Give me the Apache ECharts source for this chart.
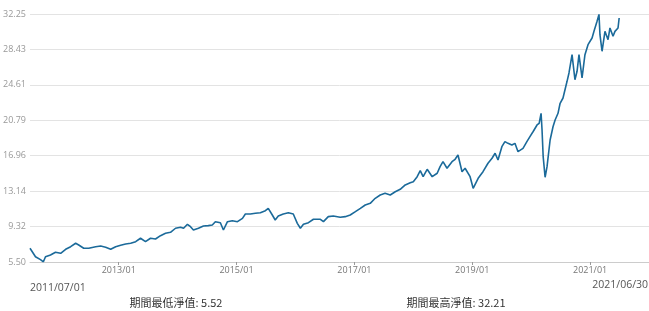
<!DOCTYPE html>
<html><head><meta charset="utf-8">
<script src="https://cdn.jsdelivr.net/npm/echarts@6/dist/echarts.min.js"></script>
<style>html,body{margin:0;padding:0;background:#fff;}#c{width:649px;height:311px;}</style>
</head><body><div id="c"></div>
<script>
const dates = ['2011-07-01','2011-08-04','2011-09-04','2011-09-22','2011-10-05','2011-11-05','2011-12-06','2012-01-07','2012-02-07','2012-03-09','2012-04-09','2012-04-28','2012-05-29','2012-06-29','2012-08-11','2012-09-11','2012-10-12','2012-11-12','2012-12-13','2013-01-13','2013-02-13','2013-03-16','2013-04-16','2013-05-16','2013-06-16','2013-07-17','2013-08-17','2013-09-17','2013-10-18','2013-11-18','2013-12-19','2014-01-19','2014-02-07','2014-03-03','2014-03-22','2014-04-09','2014-05-10','2014-06-10','2014-07-10','2014-08-04','2014-08-23','2014-09-23','2014-10-12','2014-11-06','2014-12-06','2015-01-07','2015-02-07','2015-02-25','2015-03-28','2015-04-28','2015-05-29','2015-06-29','2015-07-17','2015-08-11','2015-08-29','2015-09-17','2015-10-18','2015-11-18','2015-12-19','2016-01-13','2016-02-01','2016-02-20','2016-03-22','2016-04-22','2016-05-04','2016-06-04','2016-06-23','2016-07-23','2016-08-23','2016-10-05','2016-11-05','2016-12-06','2017-01-07','2017-02-07','2017-03-09','2017-04-09','2017-05-10','2017-06-10','2017-07-10','2017-08-11','2017-09-11','2017-10-12','2017-11-12','2017-12-13','2018-01-01','2018-01-25','2018-02-13','2018-03-03','2018-03-28','2018-04-28','2018-05-29','2018-06-16','2018-07-04','2018-07-29','2018-08-29','2018-09-17','2018-10-05','2018-10-30','2018-11-18','2018-12-19','2019-01-07','2019-02-07','2019-03-09','2019-04-09','2019-05-04','2019-05-23','2019-06-10','2019-07-04','2019-07-23','2019-08-11','2019-09-04','2019-09-23','2019-10-12','2019-11-12','2019-12-06','2019-12-25','2020-01-13','2020-02-07','2020-02-20','2020-03-03','2020-03-09','2020-03-16','2020-03-28','2020-04-09','2020-04-28','2020-05-16','2020-05-29','2020-06-16','2020-06-29','2020-07-17','2020-08-11','2020-08-23','2020-09-11','2020-09-29','2020-10-12','2020-10-24','2020-11-12','2020-11-30','2020-12-19','2021-01-13','2021-01-25','2021-02-13','2021-02-25','2021-03-03','2021-03-16','2021-04-03','2021-04-22','2021-05-04','2021-05-23','2021-06-04','2021-06-23','2021-06-30'];
const nav = [6.98,6.07,5.75,5.52,6.07,6.26,6.55,6.44,6.87,7.15,7.52,7.33,6.98,6.98,7.15,7.23,7.09,6.87,7.15,7.30,7.45,7.52,7.69,8.06,7.69,8.06,7.98,8.34,8.60,8.70,9.14,9.24,9.14,9.57,9.31,8.95,9.14,9.38,9.42,9.49,9.85,9.74,8.95,9.85,9.95,9.85,10.21,10.68,10.68,10.75,10.82,11.03,11.29,10.57,10.03,10.46,10.68,10.82,10.68,9.67,9.14,9.57,9.74,10.11,10.03,10.11,9.85,10.39,10.46,10.32,10.39,10.57,10.93,11.29,11.65,11.83,12.37,12.73,12.91,12.73,13.08,13.34,13.81,14.05,14.16,14.70,15.35,14.70,15.50,14.70,15.07,15.78,16.32,15.61,16.32,16.58,17.04,15.24,15.61,14.70,13.45,14.53,15.24,16.15,16.69,17.23,16.50,17.94,18.48,18.30,18.12,18.30,17.40,17.76,18.48,19.02,19.55,20.28,20.46,21.54,19.74,16.86,14.64,15.78,18.66,20.09,20.82,21.54,22.62,23.19,24.99,25.89,27.86,25.16,26.07,27.86,25.35,27.86,28.94,29.66,30.38,31.46,32.21,30.02,28.23,30.38,29.48,30.74,29.85,30.38,30.74,31.82,32.0];
const yTicks = ['5.50','9.32','13.14','16.96','20.79','24.61','28.43','32.25'];
const xTickLabels = ['2013-01-01','2015-01-01','2017-01-01','2019-01-01','2021-01-01'];
const startLabel = '2011/07/01';
const endLabel = '2021/06/30';
const minText = '期間最低淨值: 5.52';
const maxText = '期間最高淨值: 32.21';
const titleText = '淨值走勢 (2011/07/01-2021/06/30)';

const yMin = parseFloat(yTicks[0]);
const yMax = parseFloat(yTicks[yTicks.length-1]);
const yInt = (yMax - yMin) / (yTicks.length - 1);
const toTs = s => { const p = s.split('-'); return Date.UTC(+p[0], +p[1]-1, +p[2]); };
const chart = echarts.init(document.getElementById('c'), null, {renderer:'canvas'});
chart.setOption({
  animation:false,
  grid:{left:30, right:0, top:14, bottom:49},
  xAxis:{
    type:'value',
    min: toTs('2011-07-01'), max: toTs('2022-01-01'),
    axisLine:{lineStyle:{color:'#cccccc'}},
    axisTick:{show:true, length:3, lineStyle:{color:'#999'}, customValues: xTickLabels.map(toTs)},
    axisLabel:{color:'#777', fontSize:9, fontFamily:'Open Sans', margin:4,
      customValues: xTickLabels.map(toTs),
      formatter: v => { const d = new Date(v); return d.getUTCFullYear() + '/' + String(d.getUTCMonth()+1).padStart(2,'0'); }},
    splitLine:{show:false}
  },
  yAxis:{
    type:'value', min:yMin, max:yMax, interval:yInt,
    axisLine:{show:false}, axisTick:{show:false},
    axisLabel:{color:'#999', fontSize:9, fontFamily:'Open Sans', margin:4,
      formatter: v => { const i = Math.round((v - yMin)/yInt); return yTicks[i] !== undefined ? yTicks[i] : v.toFixed(2); }},
    splitLine:{lineStyle:{color:'#e3e3e3', width:1}}
  },
  series:[{
    type:'line', showSymbol:false, symbol:'none',
    data: dates.map((d,i)=>[toTs(d), nav[i]]),
    lineStyle:{color:'#1b6a9a', width:1.6},
    itemStyle:{color:'#1b6a9a'}
  }],
  graphic:[
    {type:'text', left:10, top:-12.5, style:{text:titleText, font:'11px "Noto Sans CJK TC"', fill:'#333'}},
    {type:'text', left:30, top:283, style:{text:startLabel, font:'10.5px "Open Sans"', fill:'#555'}},
    {type:'text', right:1, top:280, style:{text:endLabel, font:'10.5px "Open Sans"', fill:'#555'}},
    {type:'text', x:176, y:303, style:{text:minText, font:'11px "Noto Sans CJK TC"', fill:'#333', align:'center', verticalAlign:'middle'}},
    {type:'text', x:456, y:303, style:{text:maxText, font:'11px "Noto Sans CJK TC"', fill:'#333', align:'center', verticalAlign:'middle'}}
  ]
});
</script></body></html>
